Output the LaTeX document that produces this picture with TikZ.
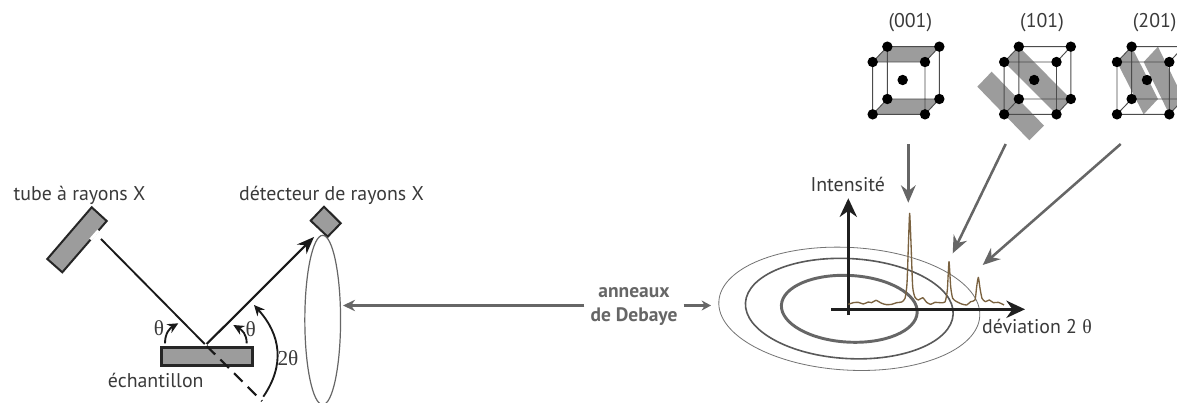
\documentclass[tikz,border=0pt]{standalone}
\usepackage{fontspec}
\setmainfont{PT Sans}
\newfontfamily\thfont{Liberation Serif}
\usetikzlibrary{arrows.meta}
\definecolor{bandgray}{HTML}{9C9C9C}
\definecolor{txtgray}{HTML}{3A3A3A}
\definecolor{arrgray}{HTML}{666666}
\definecolor{specbrown}{HTML}{7A6240}
\tikzset{
  lbl/.style={font=\fontsize{14.9}{16}\selectfont, text=txtgray, inner sep=0pt},
  thlbl/.style={font=\thfont\fontsize{16}{17}\selectfont, text=txtgray, inner sep=0pt},
  boldlbl/.style={font=\bfseries\fontsize{14.6}{17.5}\selectfont, text=arrgray, align=center, inner sep=0pt},
  devbox/.style={draw=black!85, line width=1.5pt, fill=bandgray, line join=miter},
  beam/.style={draw=black!90, line width=1.4pt},
  curved/.style={draw=black!90, line width=1.4pt, -{Stealth[length=8pt,width=7.5pt]}},
  grayarrow/.style={draw=arrgray, line width=1.9pt, -{Stealth[length=13pt,width=11pt]}},
  blackarrow/.style={draw=black!88, line width=1.8pt, -{Stealth[length=14pt,width=13pt]}},
  band/.style={fill=bandgray, draw=none},
  edge/.style={draw=black!70, line width=0.7pt},
  atom/.style={circle, fill=black, inner sep=0pt, minimum size=7.8pt},
}
\newcommand{\cubepts}[1]{%
  \path (98,186) coordinate (#1fa) (255,186) coordinate (#1fb) (255,343) coordinate (#1fc) (98,343) coordinate (#1fd)
        (142,140) coordinate (#1ba) (298,140) coordinate (#1bb) (298,297) coordinate (#1bc) (142,297) coordinate (#1bd);}
\newcommand{\cubedraw}[1]{%
  \draw[edge] (#1fa)--(#1fb)--(#1fc)--(#1fd)--cycle (#1ba)--(#1bb)--(#1bc)--(#1bd)--cycle
     (#1fa)--(#1ba) (#1fb)--(#1bb) (#1fc)--(#1bc) (#1fd)--(#1bd);
  \foreach \n in {fa,fb,fc,fd,ba,bb,bc,bd} \node[atom] (#1\n a) at (#1\n) {};
  \node[atom] (#1ctr) at (188,240) {};}
\begin{document}
\begin{tikzpicture}[x=0.75pt,y=-0.75pt]
\useasboundingbox (0,0) rectangle (1177,403);
\fill[white] (0,0) rectangle (1177,403);
\clip (0,0) rectangle (1177,403);

% left apparatus
\draw[devbox] (91.7,207.3) -- (106.7,221) -- (62.3,272.3) -- (47.3,259) -- cycle;
\draw[white, line width=2.2pt] (98.5,230.5) -- (90.5,239.5);
\draw[devbox] (324,206.7) -- (340.7,223.3) -- (327.7,236.7) -- (310.7,220.7) -- cycle;
\draw[devbox, line width=2.2pt] (161.5,347.5) rectangle (252.5,365.5);
\node[inner sep=0pt] (tube) at (100,238) {};
\node[inner sep=0pt] (impact) at (205.7,345) {};
\node[inner sep=0pt] (det) at (315,236) {};
\node[inner sep=0pt] (dashend) at (263,402) {};
\draw[beam] (tube) -- (impact);
\draw[beam, line width=1.6pt, -{Stealth[length=13pt,width=10pt]}] (impact) -- (det);
\draw[beam, line width=1.6pt, dash pattern=on 9pt off 5.5pt] (impact) -- (dashend);
\draw[draw=black!60, line width=0.9pt] (322.7,320) circle[x radius=13.4pt, y radius=63.5pt];
\coordinate (a1s) at (165,343.3); \coordinate (a1e) at (178.3,323.3);
\coordinate (a2s) at (246.7,343.3); \coordinate (a2e) at (233.3,325);
\coordinate (a3s) at (263.3,396.7); \coordinate (a3e) at (254,305);
\draw[curved] (a1s) .. controls (165,333) and (170,328) .. (a1e);
\draw[curved] (a2s) .. controls (246.7,334) and (242,330) .. (a2e);
\draw[curved] (a3s) .. controls (285,365) and (281,335) .. (a3e);
\node[thlbl] (t1) at (159,328) {θ};
\node[thlbl] (t2) at (250.7,329) {θ};
\node[thlbl] (t3) at (288,358) {2θ};
\node[lbl] (ech) at (155.7,380.7) {échantillon};
\node[lbl] (tl) at (79.5,195) {tube à rayons X};
\node[lbl] (dl) at (331.5,195) {détecteur de rayons X};

% middle
\node[boldlbl] (ann) at (634,306.5) {anneaux\\de Debaye};
\coordinate (ringR) at (711,305.5);
\coordinate (ellR) at (343,305.5);
\draw[grayarrow, -{Stealth[length=9pt,width=8.5pt]}] (ann.west) ++(-6,-1) -- (ellR);
\draw[grayarrow, -{Stealth[length=7pt,width=7.5pt]}] (ann.east) ++(6,-1) -- (ringR);

% rings
\draw[draw=black!55, line width=0.6pt] (849.3,308.8) circle[x radius=98pt, y radius=46pt, rotate=-3.2];
\draw[draw=black!65, line width=1.2pt] (849.3,308.6) circle[x radius=78pt, y radius=37.5pt, rotate=-3.2];
\draw[draw=black!60, line width=2.2pt] (849.3,308.8) circle[x radius=51pt, y radius=25pt, rotate=-3.2];

% axes
\coordinate (ox) at (831,309.3); \coordinate (xe) at (1025,309.3);
\coordinate (oy) at (848.3,315); \coordinate (ye) at (848.3,198.3);
\draw[blackarrow] (ox) -- (xe);
\draw[blackarrow] (oy) -- (ye);
\node[lbl] (il) at (847.7,184.5) {Intensité};
\node[lbl] (xl) at (1037,326.5) {déviation 2 {\thfont θ}};

% spectrum
\begin{scope}[shift={(700,170)},x=0.25pt,y=-0.25pt]
\draw[specbrown, line width=1pt, line join=round] plot[smooth, tension=0.35] coordinates {
(445,403)(460,398)(475,397)(490,402)(505,396)(515,398)(528,391)(545,400)(560,404)(575,403)(590,398)(605,396)(615,385)(621,340)(626,200)(629,130)(633,220)(638,350)(645,382)(655,390)(668,383)(680,397)(692,403)(705,397)(720,398)(735,396)(742,360)(747,275)(752,350)(758,385)(770,395)(785,402)(800,405)(812,395)(825,390)(830,350)(835,322)(840,355)(846,385)(856,395)(868,390)(880,398)(895,397)(912,405)};
\end{scope}

% cubes
\begin{scope}[shift={(840,0)},x=0.25pt,y=-0.25pt]
\cubepts{A}
\fill[band] (Afa)--(Aba)--(Abb)--(Afb)--cycle (Afd)--(Abd)--(Abc)--(Afc)--cycle;
\cubedraw{A}
\end{scope}
\begin{scope}[shift={(971.5,0)},x=0.25pt,y=-0.25pt]
\cubepts{B}
\fill[band] (Bfa)--(Bba)--(Bbc)--(Bfc)--cycle;
\fill[band] (60.5,215)--(217.5,377)--(173.5,421)--(17.5,260)--cycle;
\cubedraw{B}
\end{scope}
\begin{scope}[shift={(1084.3,0)},x=0.25pt,y=-0.25pt]
\cubepts{C}
\fill[band] (Cfa)--(Cba)--(221,297)--(178,343)--cycle;
\fill[band] (221,140)--(178,186)--(Cfc)--(Cbc)--cycle;
\cubedraw{C}
\end{scope}
\node[lbl] (m1) at (910.3,22.5) {(001)};
\node[lbl] (m2) at (1042,22.5) {(101)};
\node[lbl] (m3) at (1154.7,22.5) {(201)};

% gray arrows
\coordinate (s1) at (908.3,144); \coordinate (e1) at (908.3,202.7);
\coordinate (s2) at (1005.7,144); \coordinate (e2) at (952.7,253.3);
\coordinate (s3) at (1120.7,144); \coordinate (e3) at (982.7,265);
\draw[grayarrow] (s1) -- (e1);
\draw[grayarrow] (s2) -- (e2);
\draw[grayarrow] (s3) -- (e3);
\end{tikzpicture}
\end{document}
